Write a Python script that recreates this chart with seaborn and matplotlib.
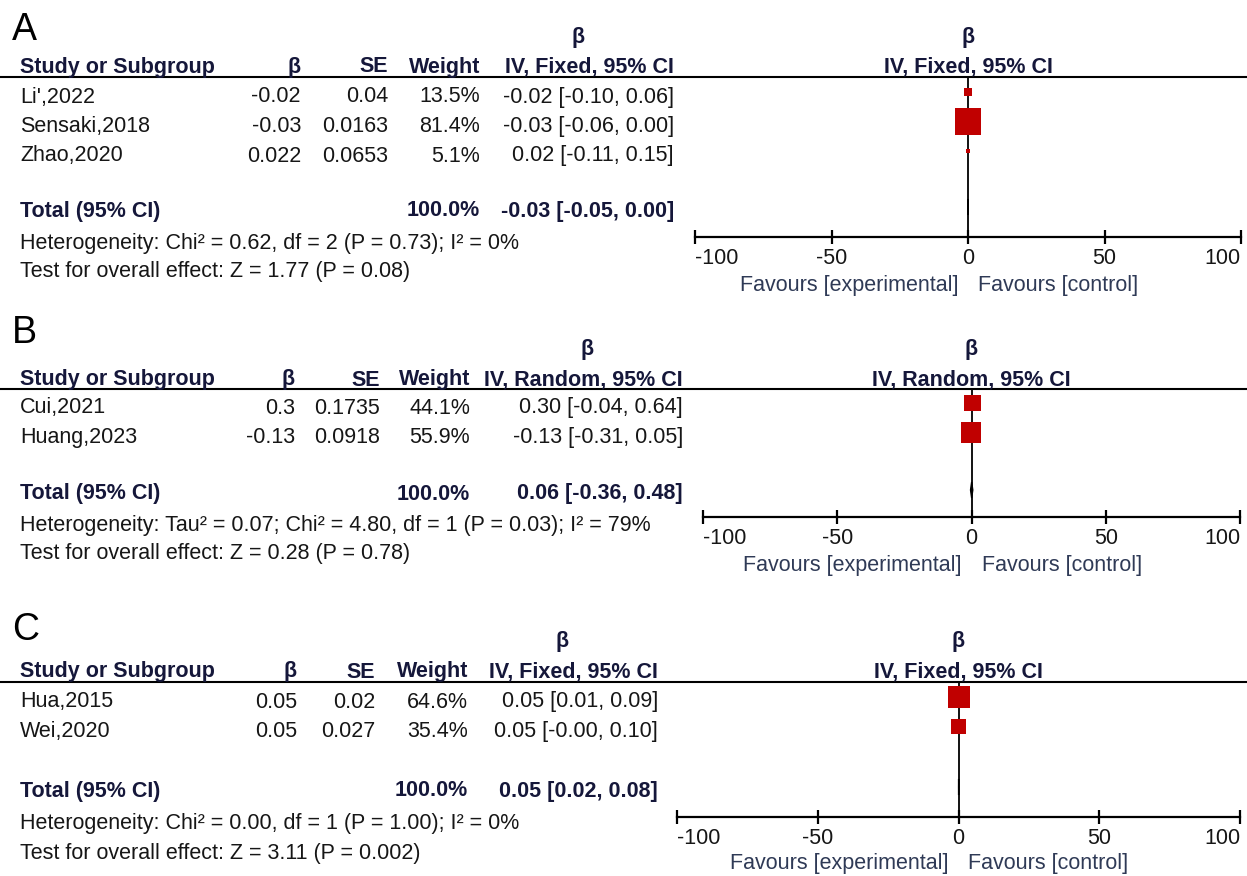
import matplotlib
matplotlib.use("Agg")
import matplotlib.pyplot as plt
import seaborn as sns
import pandas as pd
import numpy as np

# ---- data -------------------------------------------------------------
studies_a = ["Li',2022", "Sensaki,2018", "Zhao,2020"]
beta_a = [-0.02, -0.03, 0.022]
se_a = [0.04, 0.0163, 0.0653]
weight_a = [13.5, 81.4, 5.1]
est_a = [-0.02, -0.03, 0.02]
lo_a = [-0.10, -0.06, -0.11]
hi_a = [0.06, 0.00, 0.15]
total_a = [-0.03, -0.05, 0.00]
method_a = "IV, Fixed, 95% CI"
het_a = "Heterogeneity: Chi\u00b2 = 0.62, df = 2 (P = 0.73); I\u00b2 = 0%"
test_a = "Test for overall effect: Z = 1.77 (P = 0.08)"

studies_b = ["Cui,2021", "Huang,2023"]
beta_b = [0.3, -0.13]
se_b = [0.1735, 0.0918]
weight_b = [44.1, 55.9]
est_b = [0.30, -0.13]
lo_b = [-0.04, -0.31]
hi_b = [0.64, 0.05]
total_b = [0.06, -0.36, 0.48]
method_b = "IV, Random, 95% CI"
het_b = ("Heterogeneity: Tau\u00b2 = 0.07; Chi\u00b2 = 4.80, df = 1 (P = 0.03); "
         "I\u00b2 = 79%")
test_b = "Test for overall effect: Z = 0.28 (P = 0.78)"

studies_c = ["Hua,2015", "Wei,2020"]
beta_c = [0.05, 0.05]
se_c = [0.02, 0.027]
weight_c = [64.6, 35.4]
est_c = [0.05, 0.05]
lo_c = [0.01, -0.003]
hi_c = [0.09, 0.10]
total_c = [0.05, 0.02, 0.08]
method_c = "IV, Fixed, 95% CI"
het_c = "Heterogeneity: Chi\u00b2 = 0.00, df = 1 (P = 1.00); I\u00b2 = 0%"
test_c = "Test for overall effect: Z = 3.11 (P = 0.002)"

axis_ticks = [-100, -50, 0, 50, 100]
fav_left = "Favours [experimental]"
fav_right = "Favours [control]"

# ---- style ------------------------------------------------------------
sns.set_theme(style="white")
plt.rcParams["font.family"] = ["Liberation Sans", "DejaVu Sans"]

W, H = 1247, 876
fig = plt.figure(figsize=(W / 100, H / 100), dpi=100)
fig.patch.set_facecolor("white")

bg = fig.add_axes([0, 0, 1, 1])
bg.set_xlim(0, W)
bg.set_ylim(H, 0)
bg.axis("off")

FS = 15.5
TXT = "#161616"
BOLD = "#15173a"
FAV = "#2f3a56"
RED = "#c00000"

# page layout of each panel (pixels)
panels = [
    dict(tag="A", studies=studies_a, beta=beta_a, se=se_a, w=weight_a,
         est=est_a, lo=lo_a, hi=hi_a, tot=total_a, method=method_a,
         het=het_a, test=test_a,
         tag_y=30, top_y=38, head_y=67, line_y=77, row0=92, total_y=207,
         het_y=243, test_y=272, col_beta=301, col_se=388, col_w=480,
         col_ci=674, ax_l=695, ax_r=1241, ax_y=237, tick_y=256, fav_y=285),
    dict(tag="B", studies=studies_b, beta=beta_b, se=se_b, w=weight_b,
         est=est_b, lo=lo_b, hi=hi_b, tot=total_b, method=method_b,
         het=het_b, test=test_b,
         tag_y=333, top_y=350, head_y=380, line_y=389, row0=403, total_y=490,
         het_y=525, test_y=553, col_beta=295, col_se=380, col_w=470,
         col_ci=683, ax_l=703, ax_r=1240, ax_y=517, tick_y=537, fav_y=566),
    dict(tag="C", studies=studies_c, beta=beta_c, se=se_c, w=weight_c,
         est=est_c, lo=lo_c, hi=hi_c, tot=total_c, method=method_c,
         het=het_c, test=test_c,
         tag_y=630, top_y=642, head_y=672, line_y=682, row0=697, total_y=787,
         het_y=824, test_y=854, col_beta=297, col_se=375, col_w=468,
         col_ci=658, ax_l=677, ax_r=1240, ax_y=817, tick_y=837, fav_y=864),
]
ROW = 29.5
TEXT_DY = 5   # row text sits a little below the box centres


def fmt_ci(e, l, h):
    return f"{e:.2f} [{l:.2f}, {h:.2f}]"


for p in panels:
    # panel letter
    bg.text(12, p["tag_y"], p["tag"], fontsize=27, color="black",
            va="center", ha="left")

    # column headers
    bold = dict(fontsize=FS, fontweight="bold", color=BOLD, va="center")
    ci_center = p["col_ci"] - 96
    zero_x = (p["ax_l"] + p["ax_r"]) / 2
    bg.text(ci_center, p["top_y"], "\u03b2", ha="center", **bold)
    bg.text(zero_x, p["top_y"], "\u03b2", ha="center", **bold)
    bg.text(20, p["head_y"], "Study or Subgroup", ha="left", **bold)
    bg.text(p["col_beta"], p["head_y"], "\u03b2", ha="right", **bold)
    bg.text(p["col_se"], p["head_y"], "SE", ha="right", **bold)
    bg.text(p["col_w"], p["head_y"], "Weight", ha="right", **bold)
    bg.text(p["col_ci"], p["head_y"], p["method"], ha="right", **bold)
    bg.text(zero_x, p["head_y"], p["method"], ha="center", **bold)
    bg.plot([0, W], [p["line_y"], p["line_y"]], color="black", lw=1.5)

    # study rows
    reg = dict(fontsize=FS, color=TXT, va="center")
    rows = [p["row0"] + i * ROW for i in range(len(p["studies"]))]
    for y, name, b, s, w, e, l, h in zip(rows, p["studies"], p["beta"],
                                         p["se"], p["w"], p["est"],
                                         p["lo"], p["hi"]):
        ty = y + TEXT_DY
        bg.text(20, ty, name, ha="left", **reg)
        bg.text(p["col_beta"], ty, f"{b:g}", ha="right", **reg)
        bg.text(p["col_se"], ty, f"{s:g}", ha="right", **reg)
        bg.text(p["col_w"], ty, f"{w:.1f}%", ha="right", **reg)
        bg.text(p["col_ci"], ty, fmt_ci(e, l, h), ha="right", **reg)

    # total row and footnotes
    tot_ty = p["total_y"] + TEXT_DY - 1
    bg.text(20, tot_ty, "Total (95% CI)", ha="left", **bold)
    bg.text(p["col_w"], tot_ty, f"{sum(p['w']):.1f}%", ha="right", **bold)
    bg.text(p["col_ci"], tot_ty, fmt_ci(*p["tot"]), ha="right", **bold)
    bg.text(20, p["het_y"], p["het"], ha="left", **reg)
    bg.text(20, p["test_y"], p["test"], ha="left", **reg)

    # forest panel
    ax = fig.add_axes([p["ax_l"] / W, 1 - p["ax_y"] / H,
                       (p["ax_r"] - p["ax_l"]) / W,
                       (p["ax_y"] - p["line_y"]) / H])
    ax.set_facecolor("none")
    ax.set_xlim(axis_ticks[0], axis_ticks[-1])
    ax.set_ylim(p["ax_y"], p["line_y"])
    df = pd.DataFrame({"est": p["beta"], "row": rows, "w": p["w"],
                       "lo": p["lo"], "hi": p["hi"]})
    ax.axvline(0, color="black", lw=1.3, zorder=1)
    ax.hlines(df["row"], df["lo"], df["hi"], color="black", lw=1.2,
              zorder=2)
    side_pt = 1.2 * np.power(df["w"].to_numpy(), 0.7) * 0.72
    sns.scatterplot(data=df, x="est", y="row", marker="s", color=RED,
                    s=side_pt ** 2, linewidth=0, legend=False, ax=ax,
                    zorder=3)
    te, tl, th = p["tot"]
    dy = p["total_y"]
    ax.fill([tl, te, th, te], [dy, dy - 8, dy, dy + 8], color="black",
            lw=1.0, zorder=3)
    ax.set_xlabel("")
    ax.set_ylabel("")
    ax.set_yticks([])
    ax.set_xticks(axis_ticks)
    labels = ax.set_xticklabels([f"{t:d}" for t in axis_ticks])
    labels[0].set_horizontalalignment("left")
    labels[-1].set_horizontalalignment("right")
    for side in ("top", "left", "right"):
        ax.spines[side].set_visible(False)
    ax.spines["bottom"].set_linewidth(1.6)
    ax.spines["bottom"].set_color("black")
    ax.tick_params(axis="x", direction="inout", length=10, width=1.6,
                   colors="black", labelsize=FS, labelcolor=TXT,
                   pad=3, bottom=True)
    ax.grid(False)

    # favours labels
    fav = dict(fontsize=FS, color=FAV, va="center")
    bg.text(zero_x - 10, p["fav_y"], fav_left, ha="right", **fav)
    bg.text(zero_x + 10, p["fav_y"], fav_right, ha="left", **fav)

fig.savefig("out.png", dpi=100, facecolor="white")
